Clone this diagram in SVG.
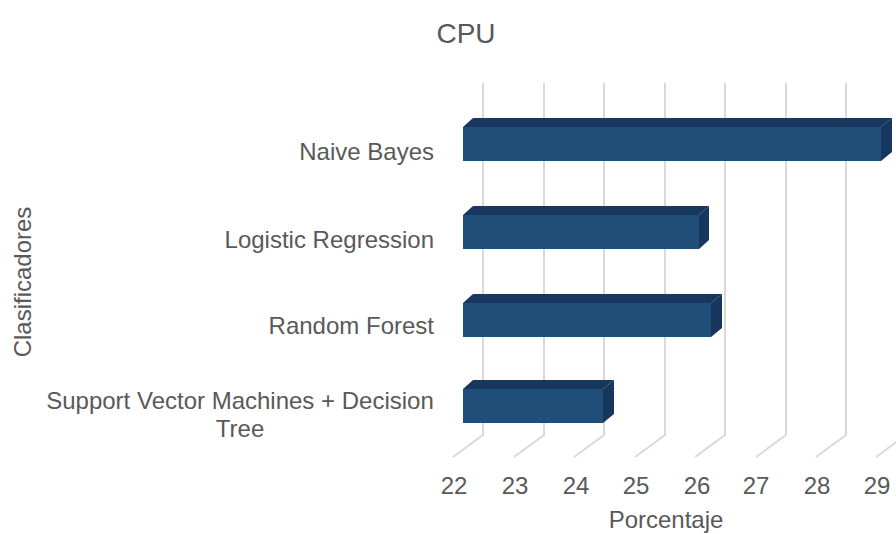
<svg xmlns="http://www.w3.org/2000/svg" width="896" height="534" viewBox="0 0 896 534">
<style>
text{font-family:"Liberation Sans",Arial,sans-serif;fill:#595959}
.lbl{font-size:24px}
.grid{stroke:#D9D9D9;stroke-width:2;fill:none}
.front{fill:#1F4E79}
.dark{fill:#17375E}
</style>
<rect width="896" height="534" fill="#FFFFFF"/>
<text x="466" y="43" font-size="28" text-anchor="middle">CPU</text>
<g id="grid">
<path class="grid" d="M483,83V435L453,457M544,83V435L514,457M604,83V435L574,457M665,83V435L635,457M725,83V435L695,457M786,83V435L756,457M846,83V435L816,457M906,83V435L876,457"/>
</g>
<g id="bar-naive-bayes">
<polygon class="dark" points="463,127 473,118 892,118 881,127"/>
<polygon class="dark" points="881,127 892,118 892,152 881,161"/>
<rect class="front" x="463" y="127" width="418" height="34"/>
</g>
<g id="bar-logistic-regression">
<polygon class="dark" points="463,215 473,206 709,206 699,215"/>
<polygon class="dark" points="699,215 709,206 709,240 699,249"/>
<rect class="front" x="463" y="215" width="236" height="34"/>
</g>
<g id="bar-random-forest">
<polygon class="dark" points="463,303 473,294 722,294 711,303"/>
<polygon class="dark" points="711,303 722,294 722,328 711,337"/>
<rect class="front" x="463" y="303" width="248" height="34"/>
</g>
<g id="bar-svm-dt">
<polygon class="dark" points="463,389 473,380 614,380 603,389"/>
<polygon class="dark" points="603,389 614,380 614,414 603,423"/>
<rect class="front" x="463" y="389" width="140" height="34"/>
</g>
<g id="category-labels" class="lbl" text-anchor="end">
<text x="434" y="160">Naive Bayes</text>
<text x="434" y="248">Logistic Regression</text>
<text x="434" y="334">Random Forest</text>
<text x="240" y="409" text-anchor="middle">Support Vector Machines + Decision</text>
<text x="240" y="437" text-anchor="middle">Tree</text>
</g>
<g id="tick-labels" class="lbl" text-anchor="middle">
<text x="454" y="494">22</text>
<text x="515" y="494">23</text>
<text x="576" y="494">24</text>
<text x="636" y="494">25</text>
<text x="697" y="494">26</text>
<text x="756" y="494">27</text>
<text x="817" y="494">28</text>
<text x="877" y="494">29</text>
</g>
<text class="lbl" x="666" y="528" text-anchor="middle">Porcentaje</text>
<text class="lbl" transform="translate(31,282) rotate(-90)" text-anchor="middle">Clasificadores</text>
</svg>
